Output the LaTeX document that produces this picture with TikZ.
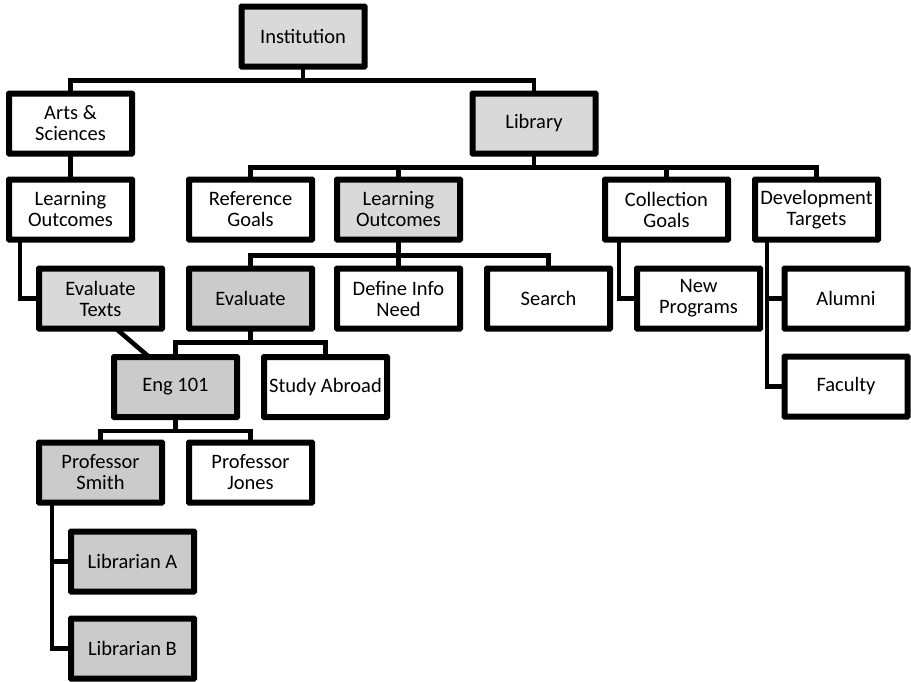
\documentclass[tikz,border=0pt]{standalone}
\usepackage{fontspec}
\setmainfont{Carlito}
\definecolor{lightg}{HTML}{D9D9D9}
\definecolor{midg}{HTML}{CBCBCB}
\begin{document}
\begin{tikzpicture}[x=1pt,y=-1pt,
  box/.style={draw=black,line width=4pt,rounded corners=1pt,minimum width=121pt,minimum height=58pt,
    inner sep=1pt,align=center,font=\fontsize{20.5}{21}\selectfont,fill=white},
  lg/.style={box,fill=lightg},
  mg/.style={box,fill=midg},
  conn/.style={line width=4.6pt,line join=miter}]
\useasboundingbox (0,0) rectangle (911,681);
\node[lg]  (inst)   at (303,36.5)   {Institution};
\node[box] (arts)   at (70.5,123.5) {Arts \&\\Sciences};
\node[lg]  (lib)    at (534,123.5)  {Library};
\node[box] (lo1)    at (70.5,209.5) {Learning\\Outcomes};
\node[box] (ref)    at (250.5,209.5){Reference\\Goals};
\node[lg]  (lo2)    at (398.5,209.5){Learning\\Outcomes};
\node[box] (coll)   at (666.5,209.5){Collection\\Goals};
\node[box] (dev)    at (816.5,209.5){Development\\Targets};
\node[lg]  (evt)    at (100.5,298.5){Evaluate\\Texts};
\node[mg]  (eval)   at (250.5,298.5){Evaluate};
\node[box] (def)    at (398.5,298.5){Define Info\\Need};
\node[box] (search) at (548.5,298.5){Search};
\node[box] (newp)   at (698.5,298.5){New\\Programs};
\node[box] (alum)   at (846,298.5)  {Alumni};
\node[box] (fac)    at (846,386.5)  {Faculty};
\node[mg]  (eng)    at (175.5,387)  {Eng 101};
\node[box] (study)  at (325.5,387)  {Study Abroad};
\node[mg]  (smith)  at (100.5,472.5){Professor\\Smith};
\node[box] (jones)  at (250.5,472.5){Professor\\Jones};
\node[mg]  (liba)   at (132.5,561.5){Librarian A};
\node[mg]  (libb)   at (132.5,648.5){Librarian B};
% connectors
\draw[conn] (inst.south) -- ++(0,13) -| (arts.north);
\draw[conn] (inst.south) -- ++(0,13) -| (lib.north);
\draw[conn] (arts.south) -- (lo1.north);
\foreach \t in {ref,lo2,coll,dev}
  \draw[conn] (lib.south) -- ++(0,13) -| (\t.north);
\draw[conn] ([xshift=-50.5pt]lo1.south) |- (evt.west);
\foreach \t in {eval,def,search}
  \draw[conn] (lo2.south) -- ++(0,15) -| (\t.north);
\draw[conn] ([xshift=-47.5pt]coll.south) |- (newp.west);
\draw[conn] ([xshift=-49.5pt]dev.south) |- (alum.west);
\draw[conn] ([xshift=-49.5pt]dev.south) |- (fac.west);
\foreach \t in {eng,study}
  \draw[conn] (eval.south) -- ++(0,13) -| (\t.north);
\draw[conn] ([xshift=16.5pt]evt.south) -- ([xshift=-27.5pt]eng.north);
\foreach \t in {smith,jones}
  \draw[conn] (eng.south) -- ++(0,13) -| (\t.north);
\draw[conn] ([xshift=-48.5pt]smith.south) |- (liba.west);
\draw[conn] ([xshift=-48.5pt]smith.south) |- (libb.west);
% redraw box outlines on top of connectors
\foreach \n in {inst,arts,lib,lo1,ref,lo2,coll,dev,evt,eval,def,search,newp,alum,fac,eng,study,smith,jones,liba,libb}
  \draw[line width=4pt,rounded corners=1pt] (\n.south west) rectangle (\n.north east);
\end{tikzpicture}
\end{document}
